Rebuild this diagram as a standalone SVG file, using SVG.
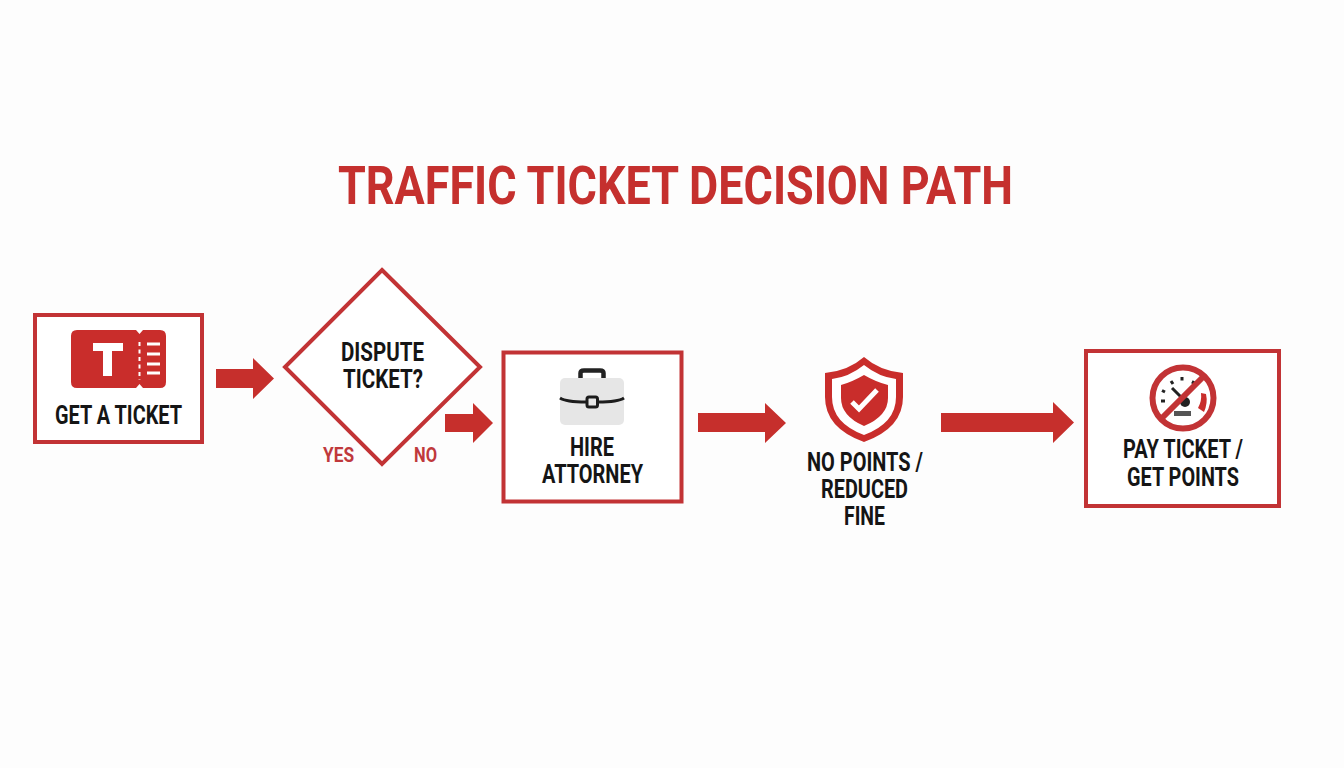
<svg xmlns="http://www.w3.org/2000/svg" width="1344" height="768" viewBox="0 0 1344 768">
<style>
text{font-family:Roboto,"Liberation Sans",sans-serif;font-weight:700;}
.l{font-size:25px;fill:#151515;}
.t{font-size:20px;fill:#c0393c;}
.box{fill:#fff;stroke:#c23335;stroke-width:4;}
.ar{fill:#c62f2c;}
.red{fill:#c92d2b;}
</style>
<rect width="1344" height="768" fill="#fdfdfd"/>
<text x="338" y="204" font-size="53" fill="#c5302e" textLength="675" lengthAdjust="spacingAndGlyphs">TRAFFIC TICKET DECISION PATH</text>
<g id="connectors">
<path class="ar" d="M216 369H253V358L274 378.500L253 399V388H216Z"/>
<path class="ar" d="M445 414H473V403L493 423L473 443V432H445Z"/>
<path class="ar" d="M698 413H765V403L786 423L765 443V432H698Z"/>
<path class="ar" d="M941 413H1053V402L1074 422.500L1053 443V432H941Z"/>
</g>
<g id="node-ticket">
<rect class="box" x="35" y="315" width="167" height="127"/>
<path class="red" d="M77 330H136L139.500 334L143 330H160Q166 330 166 336V382Q166 388 160 388H143L139.500 384L136 388H77Q71 388 71 382V336Q71 330 77 330Z"/>
<path fill="#fff" d="M93 343H123V351H112V376H103V351H93Z"/>
<path stroke="#fff" stroke-width="2" stroke-dasharray="4 3.500" d="M139.500 342V380" fill="none"/>
<path stroke="#fff" stroke-width="3" fill="none" d="M147 344H160M147 354H160M147 364H160M147 373H160"/>
<text class="l" x="55" y="424" textLength="127" lengthAdjust="spacingAndGlyphs">GET A TICKET</text>
</g>
<g id="node-dispute">
<path fill="#fff" stroke="#c23335" stroke-width="4" d="M382 270L480 367L382 464L285 367Z"/>
<text class="l" x="341" y="361" textLength="83" lengthAdjust="spacingAndGlyphs">DISPUTE</text>
<text class="l" x="343" y="388" textLength="80" lengthAdjust="spacingAndGlyphs">TICKET?</text>
<text class="t" x="323" y="462" textLength="31" lengthAdjust="spacingAndGlyphs">YES</text>
<text class="t" x="414" y="462" textLength="23" lengthAdjust="spacingAndGlyphs">NO</text>
</g>
<g id="node-attorney">
<rect class="box" x="503.500" y="352.500" width="178" height="149"/>
<rect x="560" y="378" width="64" height="47" rx="5" fill="#e6e6e6"/>
<path fill="none" stroke="#222" stroke-width="4.500" stroke-linejoin="round" d="M580.500 378V373Q580.500 370.500 584 370.500H600Q603.500 370.500 603.500 373V378"/>
<path fill="none" stroke="#1c1c1c" stroke-width="3" d="M560 398Q566 402 586 402M598 402Q618 402 624 398"/>
<rect x="587" y="397" width="10.500" height="10" rx="2" fill="#e6e6e6" stroke="#1c1c1c" stroke-width="3"/>
<text class="l" x="570" y="456" textLength="44" lengthAdjust="spacingAndGlyphs">HIRE</text>
<text class="l" x="542" y="483" textLength="101" lengthAdjust="spacingAndGlyphs">ATTORNEY</text>
</g>
<g id="node-no-points">
<path class="red" d="M864 357Q880 371 903 373V397Q903 428 864 442Q825 428 825 397V373Q848 371 864 357Z"/>
<path fill="#fff" d="M864 365Q879 377 896 379V397Q896 423 864 435Q832 423 832 397V379Q849 377 864 365Z"/>
<path class="red" d="M864 375Q876 382 888 385V398Q888 416 864 426Q841 416 841 398V385Q852 382 864 375Z"/>
<path fill="none" stroke="#fff" stroke-width="5" d="M852 402L859 409L877 390"/>
<text class="l" x="807" y="471" textLength="116" lengthAdjust="spacingAndGlyphs">NO POINTS /</text>
<text class="l" x="821" y="498" textLength="87" lengthAdjust="spacingAndGlyphs">REDUCED</text>
<text class="l" x="844" y="525" textLength="41" lengthAdjust="spacingAndGlyphs">FINE</text>
</g>
<g id="node-pay">
<rect class="box" x="1086" y="351" width="193" height="155"/>
<circle cx="1183" cy="398" r="30.500" fill="#fff" stroke="#c23335" stroke-width="6"/>
<path stroke="#222" stroke-width="3" fill="none" d="M1162 390.500L1165 392M1161 401H1165M1171 381L1173 384M1182 377V380.500M1194 381L1192.500 384"/>
<path stroke="#222" stroke-width="3" d="M1172 388L1186 402"/>
<circle cx="1185" cy="402" r="5" fill="#222"/>
<rect x="1174" y="411" width="17" height="5" fill="#555"/>
<path class="red" d="M1201 393L1206 394Q1208 403 1204 412L1198 408Q1202 401 1201 393Z"/>
<path stroke="#c23335" stroke-width="6" d="M1203 377L1161 419"/>
<text class="l" x="1123" y="458" textLength="120" lengthAdjust="spacingAndGlyphs">PAY TICKET /</text>
<text class="l" x="1127" y="486" textLength="112" lengthAdjust="spacingAndGlyphs">GET POINTS</text>
</g>
</svg>
